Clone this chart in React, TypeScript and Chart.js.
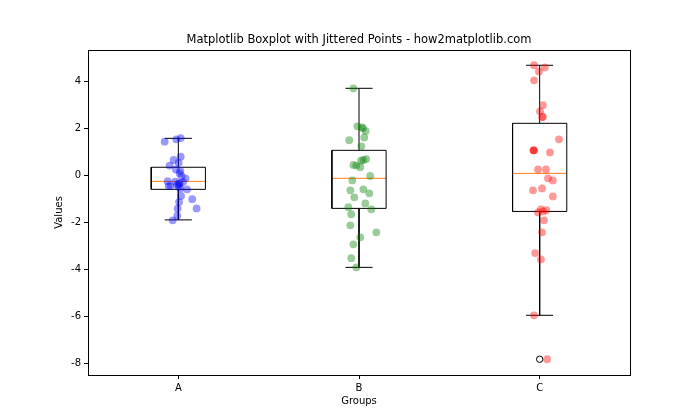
import React, { useEffect, useRef } from "react";
import { Chart, registerables } from "chart.js";

Chart.register(...registerables);

const GROUPS = ["A", "B", "C"];
const TITLE = "Matplotlib Boxplot with Jittered Points - how2matplotlib.com";
const X_LABEL = "Groups";
const Y_LABEL = "Values";
const Y_TICKS = [-8, -6, -4, -2, 0, 2, 4];

// Jittered x positions (group position + jitter) and values
const A_X = [0.924, 0.989, 1.013, 1.013, 0.974, 0.952, 1.002, 0.987, 1.011, 1.007, 1.04, 0.941, 0.983, 1.026, 0.956, 0.993, 1.007, 1.002, 0.946, 1.048, 1.011, 1.015, 1.077, 1.004, 0.996, 1.101, 0.994, 0.969, 1.003, 1.018];
const A_Y = [1.42, 1.52, 1.57, 0.78, 0.64, 0.4, 0.52, 0.24, 0.18, 0.07, -0.14, -0.26, -0.28, -0.3, -0.47, -0.43, -0.35, -0.5, -0.47, -0.61, -0.57, -0.89, -1.03, -1.15, -1.43, -1.42, -1.73, -1.93, -0.38, -0.05];

const B_X = [1.969, 1.991, 2.015, 2.022, 2.037, 1.946, 2.029, 2.013, 2.04, 2.024, 2.011, 1.969, 1.985, 2.007, 2.062, 1.963, 1.952, 2.024, 2.057, 1.974, 2.035, 1.941, 2.068, 1.957, 1.952, 2.096, 2.007, 1.969, 1.957, 1.985];
const B_Y = [3.69, 2.07, 2.03, 1.99, 1.87, 1.48, 1.6, 1.22, 0.68, 0.64, 0.61, 0.43, 0.4, 0.33, -0.04, -0.23, -0.65, -0.61, -0.78, -0.95, -1.21, -1.37, -1.46, -1.67, -2.14, -2.44, -2.65, -2.95, -3.54, -3.93];

const C_X = [2.969, 3.029, 2.996, 2.969, 3.018, 3.002, 3.013, 3.018, 3.107, 2.965, 2.969, 2.967, 3.057, 2.991, 3.035, 3.046, 3.073, 2.963, 3.013, 3.073, 2.991, 3.007, 3.037, 3.018, 3.024, 3.013, 2.975, 3.007, 2.969, 3.041];
const C_Y = [4.67, 4.58, 4.41, 4.03, 2.97, 2.71, 2.46, 2.48, 1.52, 1.05, 1.05, 1.05, 0.96, 0.24, 0.24, -0.14, -0.23, -0.65, -0.57, -0.91, -1.59, -1.46, -1.5, -1.55, -1.93, -2.44, -3.32, -3.59, -5.97, -7.84];

// Box statistics per group
const Q1 = [-0.61, -1.42, -1.55];
const MEDIAN = [-0.27, -0.14, 0.07];
const Q3 = [0.33, 1.05, 2.2];
const WHISK_LO = [-1.91, -3.93, -5.97];
const WHISK_HI = [1.56, 3.69, 4.67];
const FLIER_X = [3];
const FLIER_Y = [-7.84];

const Y_MIN = -8.51;
const Y_MAX = 5.32;

const FONT = "'DejaVu Sans', sans-serif";

export default function App() {
  const ref = useRef<HTMLCanvasElement>(null);

  useEffect(() => {
    if (!ref.current) return;
    const boxHalf = 0.15;
    const capHalf = 0.075;
    const lineDs = (pts: { x: number; y: number }[], color: string) => ({
      type: "line" as const,
      data: pts,
      borderColor: color,
      borderWidth: 1,
      pointRadius: 0,
      fill: false,
      showLine: true,
      tension: 0,
      order: 2,
    });
    const datasets: any[] = [];
    const groupsX = [A_X, B_X, C_X];
    const groupsY = [A_Y, B_Y, C_Y];
    const colors = ["rgba(0,0,255,0.4)", "rgba(0,128,0,0.4)", "rgba(255,0,0,0.4)"];
    groupsX.forEach((xs, gi) => {
      datasets.push({
        type: "scatter",
        data: xs.map((x, i) => ({ x, y: groupsY[gi][i] })),
        backgroundColor: colors[gi],
        borderColor: colors[gi],
        borderWidth: 0,
        pointRadius: 3.9,
        order: 0,
      });
    });
    GROUPS.forEach((_, gi) => {
      const g = gi + 1;
      datasets.push(
        lineDs(
          [
            { x: g - boxHalf, y: Q1[gi] },
            { x: g + boxHalf, y: Q1[gi] },
            { x: g + boxHalf, y: Q3[gi] },
            { x: g - boxHalf, y: Q3[gi] },
            { x: g - boxHalf, y: Q1[gi] },
          ],
          "#000"
        )
      );
      datasets.push(lineDs([{ x: g, y: Q3[gi] }, { x: g, y: WHISK_HI[gi] }], "#000"));
      datasets.push(lineDs([{ x: g, y: Q1[gi] }, { x: g, y: WHISK_LO[gi] }], "#000"));
      datasets.push(lineDs([{ x: g - capHalf, y: WHISK_HI[gi] }, { x: g + capHalf, y: WHISK_HI[gi] }], "#000"));
      datasets.push(lineDs([{ x: g - capHalf, y: WHISK_LO[gi] }, { x: g + capHalf, y: WHISK_LO[gi] }], "#000"));
      datasets.push(lineDs([{ x: g - boxHalf, y: MEDIAN[gi] }, { x: g + boxHalf, y: MEDIAN[gi] }], "#ff7f0e"));
    });
    datasets.push({
      type: "scatter",
      data: FLIER_X.map((x, i) => ({ x, y: FLIER_Y[i] })),
      backgroundColor: "rgba(0,0,0,0)",
      borderColor: "#000",
      borderWidth: 1,
      pointRadius: 3.2,
      order: 1,
    });

    const decor = {
      id: "decor",
      afterDraw(chart: any) {
        const { ctx, chartArea } = chart;
        ctx.save();
        ctx.strokeStyle = "#000";
        ctx.lineWidth = 1;
        ctx.strokeRect(
          Math.round(chartArea.left) + 0.5,
          Math.round(chartArea.top) + 0.5,
          Math.round(chartArea.right - chartArea.left),
          Math.round(chartArea.bottom - chartArea.top)
        );
        ctx.fillStyle = "#000";
        ctx.textAlign = "center";
        ctx.textBaseline = "middle";
        ctx.font = `11.5px ${FONT}`;
        ctx.fillText(TITLE, (chartArea.left + chartArea.right) / 2, 40);
        ctx.font = `10px ${FONT}`;
        ctx.fillText(X_LABEL, (chartArea.left + chartArea.right) / 2, 401);
        ctx.translate(59, (chartArea.top + chartArea.bottom) / 2);
        ctx.rotate(-Math.PI / 2);
        ctx.fillText(Y_LABEL, 0, 0);
        ctx.restore();
      },
    };

    const chart = new Chart(ref.current, {
      type: "scatter",
      data: { datasets },
      options: {
        animation: false,
        responsive: false,
        layout: { padding: { left: 0, top: 50, right: 70, bottom: 0 } },
        plugins: { legend: { display: false }, tooltip: { enabled: false }, title: { display: false } },
        scales: {
          x: {
            type: "linear",
            min: 0.5,
            max: 3.5,
            grid: { drawOnChartArea: false, drawTicks: true, tickLength: 4, color: "#000" },
            border: { display: true, color: "#000" },
            afterBuildTicks: (s: any) => {
              s.ticks = GROUPS.map((_, i) => ({ value: i + 1 }));
            },
            afterFit: (s: any) => {
              s.height = 45;
            },
            ticks: {
              color: "#000",
              font: { family: FONT, size: 10 },
              padding: 3,
              maxRotation: 0,
              callback: (v: any) => GROUPS[Math.round(Number(v)) - 1] ?? "",
            },
          },
          y: {
            type: "linear",
            min: Y_MIN,
            max: Y_MAX,
            grid: { drawOnChartArea: false, drawTicks: true, tickLength: 4, color: "#000" },
            border: { display: true, color: "#000" },
            afterBuildTicks: (s: any) => {
              s.ticks = Y_TICKS.map((v) => ({ value: v }));
            },
            afterFit: (s: any) => {
              s.width = 88;
            },
            ticks: {
              color: "#000",
              font: { family: FONT, size: 10 },
              padding: 3,
              callback: (v: any) => String(v),
            },
          },
        },
      },
      plugins: [decor],
    });
    return () => chart.destroy();
  }, []);

  return (
    <div style={{ position: "absolute", left: 0, top: 0, width: 700, height: 420, background: "#fff" }}>
      <canvas ref={ref} width={700} height={420} style={{ display: "block", width: 700, height: 420 }} />
    </div>
  );
}
